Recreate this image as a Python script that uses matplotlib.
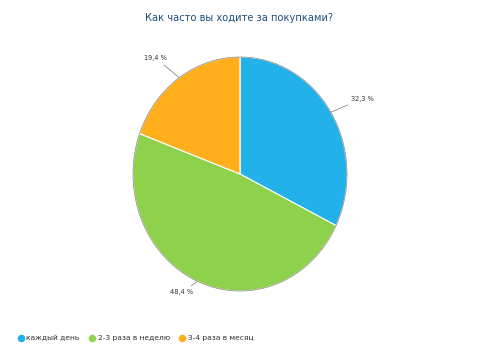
import numpy as np
import matplotlib
matplotlib.use("Agg")
import matplotlib.pyplot as plt
from matplotlib.lines import Line2D

# data
title = "Как часто вы ходите за покупками?"
categories = ["каждый день", "2-3 раза в неделю", "3-4 раза в месяц"]
values = [32.3, 48.4, 19.4]
colors = ["#22b1e8", "#8ed24c", "#ffae1c"]

W, H = 480, 363
fig = plt.figure(figsize=(W / 100, H / 100), dpi=100)

# pie is slightly stretched vertically in the original
cx, cy, rx, ry = 240, 174, 107, 117
ax = fig.add_axes([(cx - rx) / W, (H - cy - ry) / H, 2 * rx / W, 2 * ry / H])
wedges, _ = ax.pie(values, colors=colors, startangle=90, counterclock=False,
                   wedgeprops=dict(edgecolor="white", linewidth=0.8))
ax.set_aspect("auto")
ax.set_xlim(-1, 1)
ax.set_ylim(-1, 1)
ax.axis("off")

# outer rim
t = np.linspace(0, 2 * np.pi, 300)
ax.plot(np.cos(t), np.sin(t), color="#333333", lw=0.5, alpha=0.6, clip_on=False)

# percentage labels with short leader lines
cum = np.cumsum([0] + values[:-1])
lab_r = [1.22, 1.1, 1.2]
for v, c0, lr in zip(values, cum, lab_r):
    mid = np.deg2rad(90 - (c0 + v / 2) * 3.6)
    x, y = np.cos(mid), np.sin(mid)
    ha = "left" if x > 0 else "right"
    ax.annotate(f"{v:.1f} %".replace(".", ","), xy=(x * 1.0, y * 1.0),
                xytext=(x * lr, y * lr), ha=ha, va="center",
                fontsize=4.8, color="#333333", annotation_clip=False,
                arrowprops=dict(arrowstyle="-", color="#888888", lw=0.6,
                                shrinkA=1, shrinkB=0))

fig.text(239 / W, 1 - 18 / H, title, ha="center", va="center",
         fontsize=7.1, color="#1d4f7a")

handles = [Line2D([], [], marker="o", ls="", markersize=4.4,
                  markerfacecolor=c, markeredgecolor=c) for c in colors]
fig.legend(handles, categories, loc="center left", bbox_to_anchor=(0.022, 1 - 338 / H),
           ncol=3, frameon=False, fontsize=5.4, handletextpad=0.2,
           columnspacing=1.2, handlelength=1.0, labelcolor="#333333")

fig.savefig("out.png", dpi=100)
